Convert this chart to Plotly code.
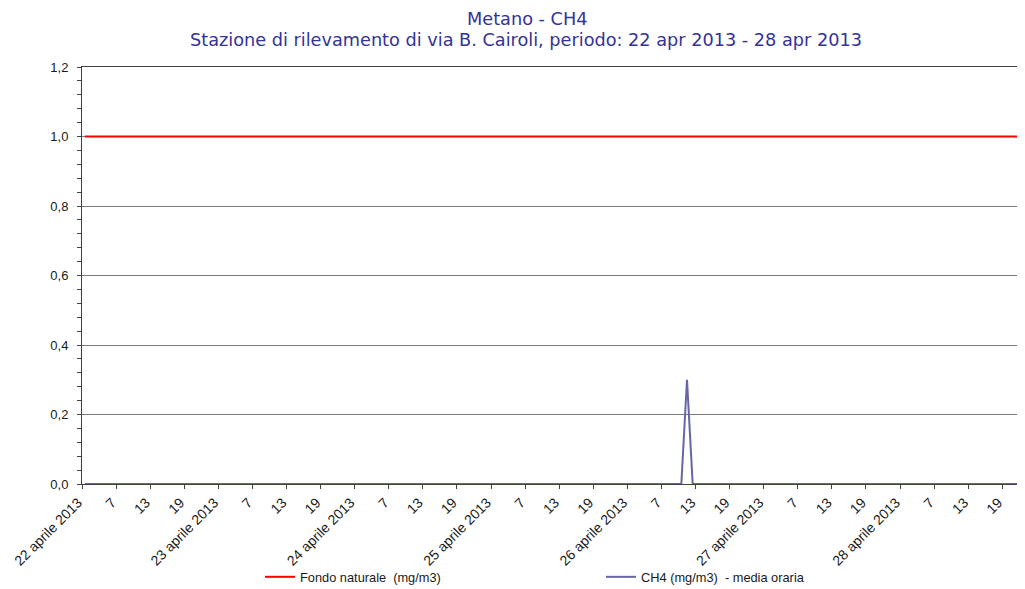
import plotly.graph_objects as go

# ---- data ----
title_line1 = "Metano - CH4"
title_line2 = "Stazione di rilevamento di via B. Cairoli, periodo: 22 apr 2013 - 28 apr 2013"
days = ["22 aprile 2013", "23 aprile 2013", "24 aprile 2013", "25 aprile 2013",
        "26 aprile 2013", "27 aprile 2013", "28 aprile 2013"]
hour_labels = ["", "7", "13", "19"]  # labels every 6 hours; day label at hour 1

ch4_22 = [0, 0, 0, 0, 0, 0, 0, 0, 0, 0, 0, 0, 0, 0, 0, 0, 0, 0, 0, 0, 0, 0, 0, 0]
ch4_23 = [0, 0, 0, 0, 0, 0, 0, 0, 0, 0, 0, 0, 0, 0, 0, 0, 0, 0, 0, 0, 0, 0, 0, 0]
ch4_24 = [0, 0, 0, 0, 0, 0, 0, 0, 0, 0, 0, 0, 0, 0, 0, 0, 0, 0, 0, 0, 0, 0, 0, 0]
ch4_25 = [0, 0, 0, 0, 0, 0, 0, 0, 0, 0, 0, 0, 0, 0, 0, 0, 0, 0, 0, 0, 0, 0, 0, 0]
ch4_26 = [0, 0, 0, 0, 0, 0, 0, 0, 0, 0, 0.3, 0, 0, 0, 0, 0, 0, 0, 0, 0, 0, 0, 0, 0]
ch4_27 = [0, 0, 0, 0, 0, 0, 0, 0, 0, 0, 0, 0, 0, 0, 0, 0, 0, 0, 0, 0, 0, 0, 0, 0]
ch4_28 = [0, 0, 0, 0, 0, 0, 0, 0, 0, 0, 0, 0, 0, 0, 0, 0, 0, 0, 0, 0, 0, 0, 0, 0]
fondo_naturale = 1.0  # mg/m3

ch4_values = ch4_22 + ch4_23 + ch4_24 + ch4_25 + ch4_26 + ch4_27 + ch4_28
n = len(ch4_values)
x_pos = [i + 0.5 for i in range(n)]
fondo_values = [fondo_naturale for _ in range(n)]

tickvals = []
ticktext = []
for d, day in enumerate(days):
    for k, lab in enumerate(hour_labels):
        tickvals.append(d * 24 + k * 6)
        ticktext.append(day if lab == "" else lab)

title_color = "#333399"
font_fam = "Liberation Sans, Arial, sans-serif"
title_fam = "DejaVu Sans, Verdana, sans-serif"

# page body has an 8px default margin; figure sized to fill the rest of the window
OFF = 8
W, H = 1017, 581
L, R, T, B = 82 - OFF, 0, 67 - OFF, 105
pw = W - L - R
ph = H - T - B


def px_x(wx):
    return (wx - OFF - L) / pw


def px_y(wy):
    return (H - B - (wy - OFF)) / ph


fig = go.Figure()
fig.add_trace(go.Scatter(x=x_pos, y=fondo_values, mode="lines",
                         name="Fondo naturale  (mg/m3)",
                         line=dict(color="#ff0000", width=2), legend="legend"))
fig.add_trace(go.Scatter(x=x_pos, y=ch4_values, mode="lines",
                         name="CH4 (mg/m3)  - media oraria",
                         line=dict(color="#6666a6", width=2), legend="legend2"))

fig.add_annotation(text=title_line1, x=px_x(527), y=px_y(18.5), xref="paper", yref="paper",
                   xanchor="center", yanchor="middle", showarrow=False,
                   font=dict(family=title_fam, size=17.7, color=title_color))
fig.add_annotation(text=title_line2, x=px_x(526), y=px_y(40.5), xref="paper", yref="paper",
                   xanchor="center", yanchor="middle", showarrow=False,
                   font=dict(family=title_fam, size=17.7, color=title_color))

fig.update_layout(
    width=W, height=H,
    margin=dict(l=L, r=R, t=T, b=B, autoexpand=False),
    paper_bgcolor="white", plot_bgcolor="white",
    separators=",.",
    xaxis=dict(range=[0, 166], tickmode="array", tickvals=tickvals, ticktext=ticktext,
               tickangle=-45, ticks="outside", ticklen=4, tickcolor="#404040",
               showgrid=False, zeroline=False, showline=True, linecolor="#404040",
               linewidth=1, mirror=True, automargin=False, ticklabelshift=-4,
               tickfont=dict(family=font_fam, size=14, color="#1a1a1a")),
    yaxis=dict(range=[0, 1.2], dtick=0.2, tickformat=".1f", ticks="outside", ticklen=4,
               tickcolor="#404040", showgrid=True, gridcolor="#7a7a7a", gridwidth=1,
               zeroline=False, showline=True, linecolor="#404040", linewidth=1,
               ticklabelstandoff=6, automargin=False,
               minor=dict(dtick=0.04, ticks="outside", ticklen=4, tickcolor="#404040", showgrid=False),
               tickfont=dict(family=font_fam, size=13, color="#1a1a1a")),
    legend=dict(orientation="h", x=px_x(260), xanchor="left", xref="paper",
                y=px_y(577), yref="paper", yanchor="middle",
                font=dict(family=font_fam, size=12.8, color="#1a1a1a"), bgcolor="rgba(0,0,0,0)"),
    legend2=dict(orientation="h", x=px_x(601), xanchor="left", xref="paper",
                 y=px_y(577), yref="paper", yanchor="middle",
                 font=dict(family=font_fam, size=12.8, color="#1a1a1a"), bgcolor="rgba(0,0,0,0)"),
    showlegend=True,
)

fig.write_html("out.html")
